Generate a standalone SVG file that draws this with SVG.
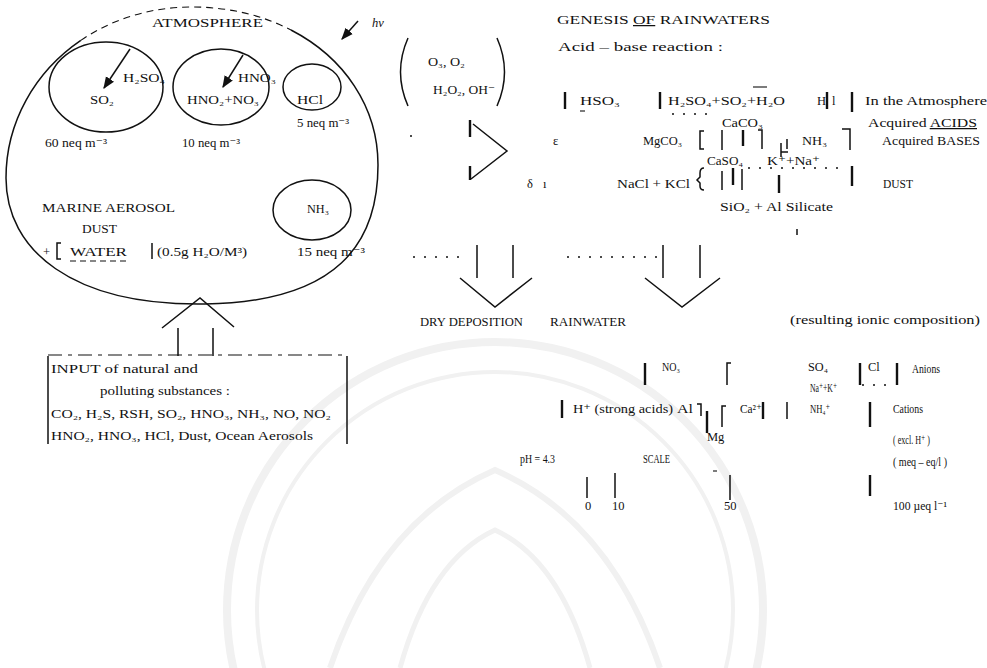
<svg xmlns="http://www.w3.org/2000/svg" width="987" height="668" viewBox="0 0 987 668">
  <style>
    text { font-family: "Liberation Serif", "DejaVu Serif", serif; font-size: 12.5px; fill: #111; }
    .ln { fill: none; stroke: #111; stroke-width: 1.5; }
    .thin { fill: none; stroke: #111; stroke-width: 1.1; }
    .brk { fill: none; stroke: #111; stroke-width: 2.4; }
    .dot { fill: none; stroke: #111; stroke-width: 1.3; stroke-dasharray: 2 9; }
    .wm { fill: none; stroke: #f1f1f1; }
  </style>
  <defs>
    <marker id="ah" viewBox="0 0 10 10" refX="9" refY="5" markerWidth="8" markerHeight="8" orient="auto">
      <path d="M0,1 L10,5 L0,9 Z" fill="#111"/>
    </marker>
  </defs>

  <rect width="987" height="668" fill="#fff"/>

  <!-- faint seal in the background -->
  <g id="seal">
    <circle cx="495" cy="610" r="268" class="wm" stroke-width="8"/>
    <circle cx="495" cy="610" r="238" class="wm" stroke-width="4"/>
    <path d="M330,668 Q380,520 495,470 Q610,520 660,668" class="wm" stroke-width="6"/>
    <path d="M400,668 Q430,560 495,530 Q560,560 590,668" class="wm" stroke-width="5"/>
  </g>

  <!-- atmosphere -->
  <g id="atmosphere">
    <path d="M291,30 C343.8,57.3 378,106.5 378,165 C378,243 338,302 205,304 C72,306 6,250 6,178 C6,122.2 34.8,71.8 80.8,40.4" class="ln"/>
    <path d="M80.8,40.4 C111.4,19.5 149.6,7 192,7 C228.75,7 262.6,15.3 291,30" class="thin" stroke-dasharray="7 5"/>
    <text x="152" y="27" textLength="111" lengthAdjust="spacingAndGlyphs">ATMOSPHERE</text>
  </g>

  <g id="so2">
    <ellipse cx="106" cy="87" rx="57" ry="45" class="ln"/>
    <line x1="130" y1="49" x2="104" y2="88" class="ln" marker-end="url(#ah)"/>
    <text x="123" y="82" textLength="42" lengthAdjust="spacingAndGlyphs">H₂SO₄</text>
    <text x="90" y="104" textLength="24" lengthAdjust="spacingAndGlyphs">SO₂</text>
    <text x="45" y="147" textLength="62" lengthAdjust="spacingAndGlyphs">60 neq m⁻³</text>
  </g>

  <g id="hno">
    <ellipse cx="221" cy="87" rx="48" ry="38" class="ln"/>
    <line x1="243" y1="55" x2="223" y2="87" class="ln" marker-end="url(#ah)"/>
    <text x="238" y="82" textLength="38" lengthAdjust="spacingAndGlyphs">HNO₃</text>
    <text x="187" y="104" textLength="72" lengthAdjust="spacingAndGlyphs">HNO₂+NO₃</text>
    <text x="182" y="147" textLength="58" lengthAdjust="spacingAndGlyphs">10 neq m⁻³</text>
  </g>

  <g id="hcl">
    <ellipse cx="312" cy="87" rx="29" ry="23" class="ln"/>
    <text x="297" y="104" textLength="26" lengthAdjust="spacingAndGlyphs">HCl</text>
    <text x="297" y="127" textLength="52" lengthAdjust="spacingAndGlyphs">5 neq m⁻³</text>
  </g>

  <g id="aerosol">
    <text x="42" y="212" textLength="133" lengthAdjust="spacingAndGlyphs">MARINE AEROSOL</text>
    <text x="82" y="233" textLength="35" lengthAdjust="spacingAndGlyphs">DUST</text>
    <text x="43" y="256">+</text>
    <path d="M61,243 h-4 v16 h4" class="ln"/>
    <text x="70" y="256" textLength="57" lengthAdjust="spacingAndGlyphs">WATER</text>
    <line x1="70" y1="261" x2="126" y2="261" class="thin" stroke-dasharray="6 4"/>
    <line x1="152" y1="243" x2="152" y2="259" class="ln"/>
    <text x="157" y="256" textLength="90" lengthAdjust="spacingAndGlyphs">(0.5g H₂O/M³)</text>
  </g>

  <g id="nh3">
    <ellipse cx="312" cy="210" rx="39" ry="30" class="ln"/>
    <text x="307" y="213" textLength="22" lengthAdjust="spacingAndGlyphs">NH₃</text>
    <text x="297" y="256" textLength="68" lengthAdjust="spacingAndGlyphs">15 neq m⁻³</text>
  </g>

  <!-- sunlight and oxidants -->
  <g id="oxidants">
    <line x1="358" y1="21" x2="342" y2="39" class="ln" marker-end="url(#ah)"/>
    <text x="372" y="27" font-style="italic">hν</text>
    <path d="M408,38 Q393,72 408,106" class="ln"/>
    <path d="M497,38 Q512,72 497,106" class="ln"/>
    <text x="428" y="66" textLength="37" lengthAdjust="spacingAndGlyphs">O₃, O₂</text>
    <text x="433" y="94" textLength="62" lengthAdjust="spacingAndGlyphs">H₂O₂, OH⁻</text>
  </g>

  <g id="reaction-arrow">
    <line x1="470" y1="120" x2="470" y2="137" class="brk"/>
    <path d="M473,124 L507,151 L471,179" class="ln"/>
    <line x1="470" y1="166" x2="470" y2="180" class="brk"/>
    <circle cx="411" cy="136" r="1" fill="#111"/>
  </g>

  <!-- genesis of rainwaters -->
  <g id="genesis">
    <text x="557" y="24" textLength="213" lengthAdjust="spacingAndGlyphs">GENESIS <tspan text-decoration="underline">OF</tspan> RAINWATERS</text>
    <text x="558" y="51" textLength="165" lengthAdjust="spacingAndGlyphs">Acid – base reaction :</text>

    <line x1="565" y1="92" x2="565" y2="109" class="brk"/>
    <text x="580" y="105" textLength="40" lengthAdjust="spacingAndGlyphs">HSO₃</text>
    <line x1="580" y1="111" x2="585" y2="111" class="thin"/>
    <line x1="660" y1="92" x2="660" y2="109" class="brk"/>
    <text x="668" y="105" textLength="117" lengthAdjust="spacingAndGlyphs">H₂SO₄+SO₂+H₂O</text>
    <line x1="672" y1="114" x2="713" y2="114" class="dot" stroke-width="1"/>
    <line x1="753" y1="87" x2="767" y2="87" class="thin"/>
    <text x="817" y="105">H</text>
    <line x1="827" y1="92" x2="827" y2="109" class="brk"/>
    <text x="832" y="105">l</text>
    <line x1="852" y1="92" x2="852" y2="112" class="brk"/>
    <text x="865" y="105" textLength="122" lengthAdjust="spacingAndGlyphs">In the Atmosphere</text>

    <text x="722" y="127" textLength="41" lengthAdjust="spacingAndGlyphs">CaCO₃</text>
    <text x="868" y="127" textLength="109" lengthAdjust="spacingAndGlyphs">Acquired <tspan text-decoration="underline">ACIDS</tspan></text>

    <text x="553" y="145" font-size="10">ε</text>
    <text x="643" y="145" textLength="39" lengthAdjust="spacingAndGlyphs">MgCO₃</text>
    <path d="M704,131 h-4 v18 h4" class="ln"/>
    <line x1="722" y1="130" x2="722" y2="150" class="ln"/>
    <line x1="743" y1="130" x2="743" y2="146" class="brk"/>
    <path d="M758,130 h4 v19" class="ln"/>
    <path d="M781,143 v14 M781,152 h7" class="ln"/>
    <line x1="787" y1="139" x2="787" y2="149" class="ln"/>
    <text x="802" y="145" textLength="25" lengthAdjust="spacingAndGlyphs">NH₃</text>
    <path d="M842,129 h8 v21" class="ln"/>
    <text x="882" y="145" textLength="98" lengthAdjust="spacingAndGlyphs">Acquired BASES</text>

    <text x="707" y="165" textLength="36" lengthAdjust="spacingAndGlyphs">CaSO₄</text>
    <text x="767" y="165" textLength="53" lengthAdjust="spacingAndGlyphs">K⁺+Na⁺</text>
    <line x1="748" y1="168" x2="840" y2="168" class="dot"/>

    <text x="527" y="188">δ</text>
    <text x="543" y="188">ı</text>
    <text x="617" y="188" textLength="73" lengthAdjust="spacingAndGlyphs">NaCl + KCl</text>
    <path d="M704,168 q-4,0 -4,5 v4 l-3,3 l3,3 v3 q0,4 4,4" class="ln"/>
    <line x1="722" y1="171" x2="722" y2="190" class="ln"/>
    <line x1="733" y1="168" x2="733" y2="185" class="brk"/>
    <line x1="742" y1="169" x2="742" y2="190" class="ln"/>
    <line x1="779" y1="175" x2="779" y2="193" class="brk"/>
    <line x1="852" y1="166" x2="852" y2="186" class="brk"/>
    <text x="883" y="188" textLength="30" lengthAdjust="spacingAndGlyphs">DUST</text>

    <text x="720" y="211" textLength="113" lengthAdjust="spacingAndGlyphs">SiO₂ + Al Silicate</text>
  </g>

  <!-- flows between the stages -->
  <g id="connectors">
    <line x1="413" y1="257" x2="460" y2="257" class="dot"/>
    <line x1="567" y1="257" x2="660" y2="257" class="dot"/>
    <path d="M477,245 V278 M513,245 V278 M460,278 L495,307 L532,278" class="ln"/>
    <path d="M663,245 V278 M700,245 V278 M645,278 L682,307 L720,278" class="ln"/>
    <line x1="797" y1="229" x2="797" y2="235" class="ln"/>
    <path d="M178,356 V328 M213,356 V328 M162,328 L200,298 L234,327" class="ln"/>
  </g>

  <g id="deposition-labels">
    <text x="420" y="326" textLength="103" lengthAdjust="spacingAndGlyphs">DRY DEPOSITION</text>
    <text x="550" y="326" textLength="76" lengthAdjust="spacingAndGlyphs">RAINWATER</text>
    <text x="790" y="324" textLength="190" lengthAdjust="spacingAndGlyphs">(resulting ionic composition)</text>
  </g>

  <!-- ionic composition of rainwater -->
  <g id="composition">
    <line x1="645" y1="363" x2="645" y2="385" class="brk"/>
    <text x="662" y="371" textLength="18" lengthAdjust="spacingAndGlyphs">NO₃</text>
    <path d="M731,363 h-4 v22" class="ln"/>
    <text x="808" y="371" textLength="20" lengthAdjust="spacingAndGlyphs">SO₄</text>
    <line x1="860" y1="363" x2="860" y2="385" class="brk"/>
    <text x="868" y="371">Cl</text>
    <line x1="897" y1="363" x2="897" y2="385" class="brk"/>
    <line x1="862" y1="385" x2="895" y2="385" class="dot" stroke-width="1"/>
    <text x="912" y="373" textLength="28" lengthAdjust="spacingAndGlyphs">Anions</text>
    <text x="810" y="392" textLength="27" lengthAdjust="spacingAndGlyphs" font-size="10">Na⁺+K⁺</text>

    <line x1="562" y1="400" x2="562" y2="418" class="brk"/>
    <text x="573" y="413" textLength="100" lengthAdjust="spacingAndGlyphs">H⁺ (strong acids)</text>
    <text x="677" y="413" textLength="16" lengthAdjust="spacingAndGlyphs">Al</text>
    <path d="M697,404 h4 v12" class="ln"/>
    <line x1="707" y1="411" x2="707" y2="433" class="brk"/>
    <path d="M726,406 h-4 v21" class="ln"/>
    <text x="740" y="413" textLength="22" lengthAdjust="spacingAndGlyphs">Ca²⁺</text>
    <line x1="763" y1="402" x2="763" y2="419" class="brk"/>
    <line x1="787" y1="402" x2="787" y2="419" class="ln"/>
    <text x="810" y="413" textLength="20" lengthAdjust="spacingAndGlyphs">NH₄⁺</text>
    <line x1="870" y1="402" x2="870" y2="427" class="brk"/>
    <text x="893" y="413" textLength="30" lengthAdjust="spacingAndGlyphs">Cations</text>
    <text x="707" y="441" font-size="10">Mg</text>
    <text x="893" y="444" textLength="37" lengthAdjust="spacingAndGlyphs">( excl. H⁺ )</text>
    <text x="893" y="466" textLength="54" lengthAdjust="spacingAndGlyphs">( meq – eq/l )</text>
  </g>

  <g id="scale">
    <text x="520" y="463" textLength="35" lengthAdjust="spacingAndGlyphs">pH = 4.3</text>
    <text x="643" y="463" textLength="27" lengthAdjust="spacingAndGlyphs">SCALE</text>
    <line x1="587" y1="477" x2="587" y2="498" class="ln"/>
    <line x1="615" y1="473" x2="615" y2="498" class="ln"/>
    <line x1="713" y1="471" x2="717" y2="471" class="thin"/>
    <line x1="730" y1="475" x2="730" y2="500" class="ln"/>
    <line x1="870" y1="475" x2="870" y2="496" class="brk"/>
    <text x="585" y="510">0</text>
    <text x="612" y="510">10</text>
    <text x="724" y="510">50</text>
    <text x="893" y="510" textLength="54" lengthAdjust="spacingAndGlyphs">100 µeq l⁻¹</text>
  </g>

  <!-- sources -->
  <g id="input">
    <line x1="48" y1="355" x2="347" y2="355" stroke="#111" stroke-width="1.2" stroke-dasharray="14 6 4 6"/>
    <line x1="48" y1="356" x2="48" y2="444" class="ln"/>
    <line x1="347" y1="356" x2="347" y2="444" class="ln"/>
    <text x="51" y="373" textLength="147" lengthAdjust="spacingAndGlyphs">INPUT    of natural and</text>
    <text x="100" y="395" textLength="130" lengthAdjust="spacingAndGlyphs">polluting substances :</text>
    <text x="51" y="418" textLength="280" lengthAdjust="spacingAndGlyphs">CO₂, H₂S, RSH, SO₂, HNO₃, NH₃, NO, NO₂</text>
    <text x="51" y="440" textLength="262" lengthAdjust="spacingAndGlyphs">HNO₂, HNO₃, HCl, Dust, Ocean Aerosols</text>
  </g>
</svg>
